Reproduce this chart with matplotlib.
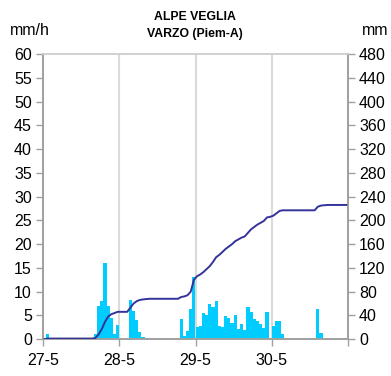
import numpy as np
import matplotlib
matplotlib.use("Agg")
import matplotlib.pyplot as plt

plt.rcParams['font.family'] = ['Liberation Sans', 'DejaVu Sans']

# hourly rain intensity (mm/h), 27-5 00h .. 30-5 23h
rain = [0, 1.0, 0, 0, 0, 0, 0, 0, 0, 0, 0, 0, 0, 0, 0, 0,
        1.0, 7.0, 8.0, 16.0, 7.0, 4.5, 1.0, 3.0,
        0, 0, 0, 8.3, 6.0, 4.0, 1.5, 0.4, 0.3, 0, 0, 0, 0.3, 0, 0, 0, 0, 0, 0,
        4.3, 0.7, 1.7, 6.3, 13.0,
        2.5, 2.8, 5.5, 5.1, 7.3, 6.7, 8.0, 2.8, 2.5, 4.9, 4.5, 3.5,
        5.1, 2.2, 3.1, 2.0, 6.7, 5.7, 4.2, 3.8, 3.2, 2.4, 5.7, 0,
        2.7, 3.9, 3.8, 1.0, 0, 0, 0, 0, 0, 0, 0, 0, 0, 0,
        6.3, 1.2, 0.3, 0, 0, 0, 0, 0, 0, 0]

# cumulative rain (mm)
cum = [0, 1, 1, 1, 1, 1, 1, 1, 1, 1, 1, 1, 1, 1, 1, 1,
       2, 8, 17, 29, 38, 42, 44, 46,
       46, 46, 46, 53, 60, 64, 66, 67, 67.5, 68, 68, 68, 68, 68, 68, 68, 68, 68, 68,
       71, 72, 74, 80, 100,
       106, 109, 113, 118, 123, 130, 138, 142, 147, 152, 156, 160,
       165, 168, 171, 173, 179, 185, 189, 193, 196, 199, 205, 206,
       208, 212, 216, 217, 217, 217, 217, 217, 217, 217, 217, 217, 217, 217,
       223, 225, 225.5, 226, 226, 226, 226, 226, 226, 226]

day_labels = ['27-5', '28-5', '29-5', '30-5', '']

hours = np.arange(len(rain)) + 0.5

fig = plt.figure(figsize=(3.91, 3.76), dpi=100)
ax = fig.add_axes([0.110, 0.098, 0.780, 0.758])
ax2 = ax.twinx()

ax.bar(hours, rain, width=1.0, color='#00ccff', edgecolor='none', zorder=2)
ax2.plot(hours, cum, color='#33339a', lw=1.4, zorder=3)

ax.set_xlim(0, 96)
ax.set_ylim(0, 60)
ax.set_yticks(np.arange(0, 61, 5))
ax2.set_ylim(0, 480)
ax2.set_yticks(np.arange(0, 481, 40))
ax.set_xticks(np.arange(0, 97, 24))
ax.set_xticklabels(day_labels)

ax.grid(axis='x', color='#dadada', lw=1.5, zorder=0)
ax.set_axisbelow(True)

for a in (ax, ax2):
    for s in a.spines.values():
        s.set_color('#a0a0a0')
        s.set_linewidth(1.2)
    a.spines['top'].set_color('#d0d0d0')
    a.tick_params(colors='#a0a0a0', labelcolor='black', labelsize=11.5, length=5, width=1)
ax.tick_params(axis='y', pad=3)
ax.tick_params(axis='x', pad=5)
ax2.tick_params(axis='y', pad=3)

fig.text(0.499, 0.955, 'ALPE VEGLIA', ha='center', va='center', fontsize=8.8, fontweight='bold')
fig.text(0.499, 0.91, 'VARZO (Piem-A)', ha='center', va='center', fontsize=8.8, fontweight='bold')
fig.text(0.025, 0.918, 'mm/h', ha='left', va='center', fontsize=11.5)
fig.text(0.925, 0.918, 'mm', ha='left', va='center', fontsize=11.5)

fig.savefig('out.png', dpi=100)
